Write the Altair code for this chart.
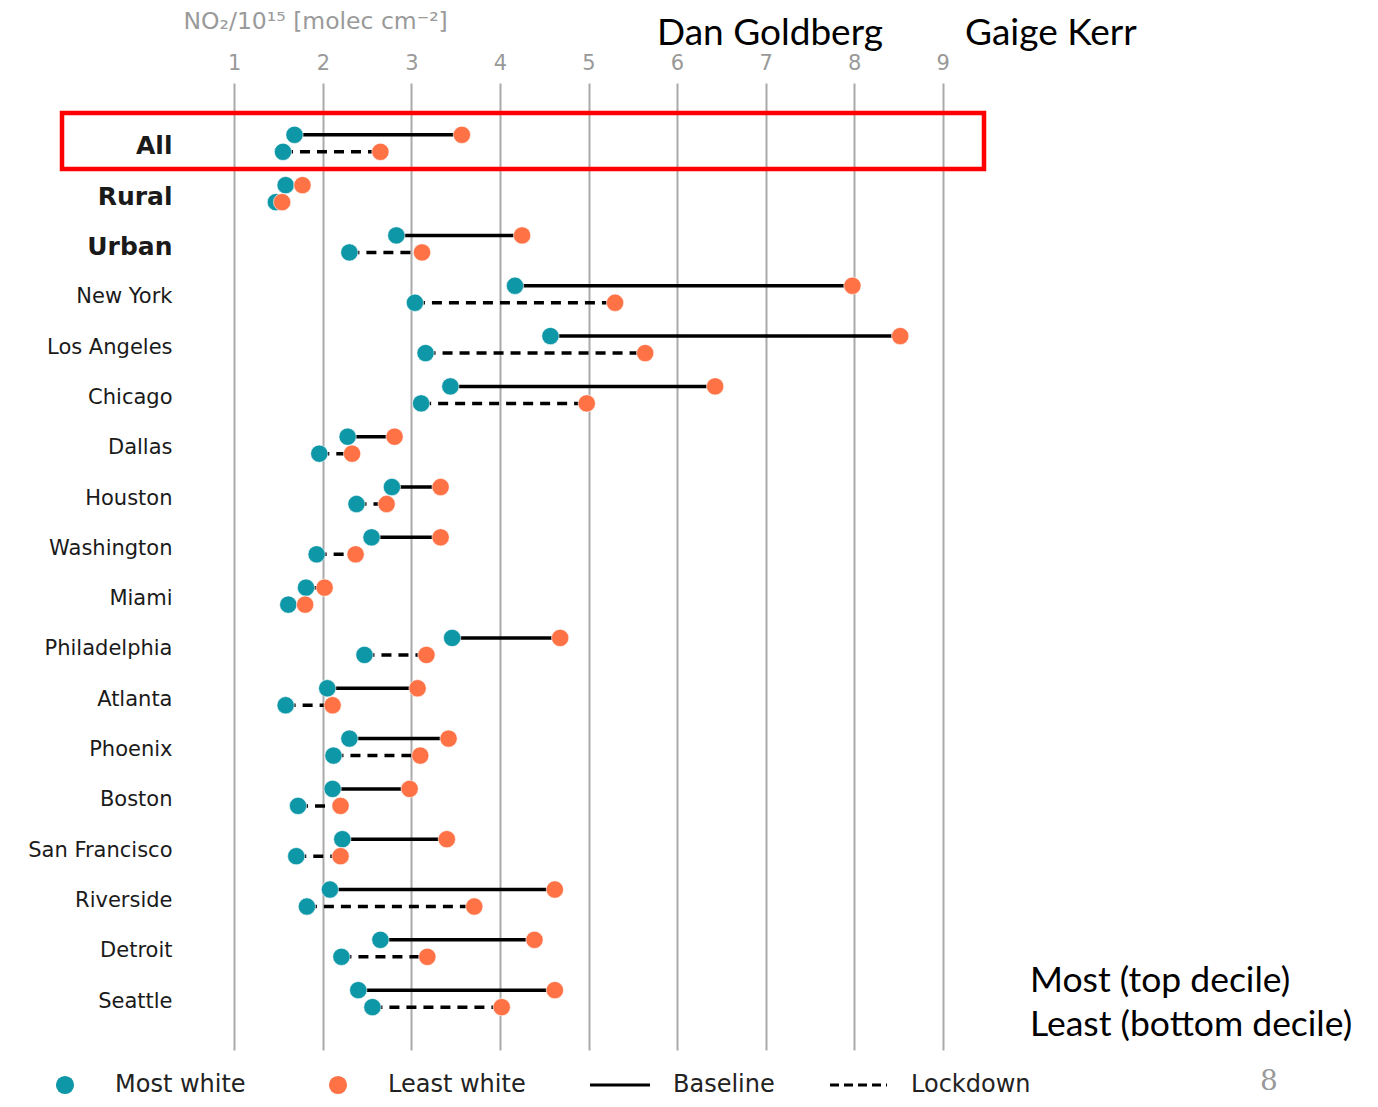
import altair as alt
import pandas as pd

categories = ["All", "Rural", "Urban", "New York", "Los Angeles", "Chicago", "Dallas",
              "Houston", "Washington", "Miami", "Philadelphia", "Atlanta", "Phoenix",
              "Boston", "San Francisco", "Riverside", "Detroit", "Seattle"]
base_most = [1.68, 1.58, 2.83, 4.17, 4.57, 3.44, 2.28, 2.78, 2.55, 1.81, 3.46, 2.05, 2.30, 2.11, 2.22, 2.08, 2.65, 2.40]
base_least = [3.57, 1.77, 4.25, 7.98, 8.52, 6.43, 2.81, 3.33, 3.33, 2.02, 4.68, 3.07, 3.42, 2.98, 3.40, 4.62, 4.39, 4.62]
lock_most = [1.55, 1.47, 2.30, 3.04, 3.16, 3.11, 1.96, 2.38, 1.93, 1.61, 2.47, 1.58, 2.12, 1.72, 1.70, 1.82, 2.21, 2.56]
lock_least = [2.65, 1.54, 3.12, 5.30, 5.64, 4.98, 2.33, 2.72, 2.37, 1.80, 3.17, 2.11, 3.10, 2.20, 2.20, 3.71, 3.18, 4.02]

groups = ["Most white", "Least white"]
periods = ["Baseline", "Lockdown"]
x_ticks = [1, 2, 3, 4, 5, 6, 7, 8, 9]

TEAL = "#0e97a7"
ORANGE = "#ff7246"
DASH = [10, 7]

rows = []
for i, c in enumerate(categories):
    rows.append({"cat": c, "period": "Baseline", "Most white": base_most[i], "Least white": base_least[i]})
    rows.append({"cat": c, "period": "Lockdown", "Most white": lock_most[i], "Least white": lock_least[i]})
df = pd.DataFrame(rows)

x_scale = alt.Scale(domain=[0.5, 9.5], nice=False, zero=False)
y_scale = alt.Scale(domain=categories, paddingInner=0, paddingOuter=0.61, align=0.573)
yoff_scale = alt.Scale(domain=periods, paddingInner=0, paddingOuter=0.48)

x_axis = alt.Axis(orient="top", values=x_ticks, format="d", grid=True, gridColor="#aaaaaa",
                  gridWidth=2, ticks=False, domain=False, labelFontSize=21, labelColor="#999999",
                  labelFont="DejaVu Sans", labelPadding=10,
                  title="NO₂/10¹⁵ [molec cm⁻²]", titleFont="DejaVu Sans", titleFontSize=23.5,
                  titleFontWeight="normal", titleColor="#9a9a9a", titleAnchor="start",
                  titleAlign="left", titleBaseline="middle", titleX=-7, titleY=-62)

is_bold = "indexof(['All','Rural','Urban'], datum.value) >= 0"
y_axis = alt.Axis(title=None, ticks=False, domain=False, grid=False, labelPadding=18,
                  labelOffset=3, labelColor="#1a1a1a", labelFont="DejaVu Sans",
                  labelFontSize={"condition": {"test": is_bold, "value": 25}, "value": 21},
                  labelFontWeight={"condition": {"test": is_bold, "value": "bold"}, "value": "normal"})

base = alt.Chart(df)

lines = base.mark_rule(color="black", strokeWidth=3.5).encode(
    x=alt.X("Most white:Q", scale=x_scale, axis=x_axis),
    x2="Least white:Q",
    y=alt.Y("cat:N", scale=y_scale, axis=y_axis, sort=categories),
    yOffset=alt.YOffset("period:N", scale=yoff_scale, sort=periods),
    strokeDash=alt.StrokeDash("period:N", scale=alt.Scale(domain=periods, range=[[1, 0], DASH]),
                              legend=None),
)

points = base.transform_fold(groups, as_=["group", "value"]).mark_point(
    filled=True, size=300, opacity=1, stroke="white", strokeWidth=0.6).encode(
    x=alt.X("value:Q", scale=x_scale),
    y=alt.Y("cat:N", scale=y_scale, sort=categories),
    yOffset=alt.YOffset("period:N", scale=yoff_scale, sort=periods),
    color=alt.Color("group:N", scale=alt.Scale(domain=groups, range=[TEAL, ORANGE]),
                    legend=alt.Legend(title=None, orient="none", direction="horizontal",
                                      legendX=-137, legendY=990, symbolType="circle",
                                      symbolSize=330, symbolStrokeWidth=0, labelFontSize=24,
                                      labelFont="DejaVu Sans", labelColor="#222222",
                                      labelOffset=38, columnPadding=80)),
    order=alt.Order("group:N", sort="descending"),
)

one = alt.Data(values=[{}])


def note(text, x, y, size, font="Lato", color="black", align="left", baseline="alphabetic"):
    return alt.Chart(one).mark_text(text=text, font=font, fontSize=size, color=color,
                                    align=align, baseline=baseline).encode(
        x=alt.value(x), y=alt.value(y))


def key_line(x1, x2, y, dash):
    return alt.Chart(one).mark_rule(color="black", strokeWidth=3, strokeDash=dash).encode(
        x=alt.value(x1), x2=alt.value(x2), y=alt.value(y))


notes = [
    note("Dan Goldberg", 467, -38.5, 37),
    note("Gaige Kerr", 775, -38.5, 37),
    note("Most (top decile)", 840, 909, 35.5),
    note("Least (bottom decile)", 840, 953, 35.5),
    note("8", 1079, 1007, 28, font="DejaVu Serif", color="#999999", align="center"),
    key_line(400, 460, 1002, [1, 0]),
    note("Baseline", 483, 1002, 24, font="DejaVu Sans", color="#222222", baseline="middle"),
    key_line(640, 697, 1002, [9, 5]),
    note("Lockdown", 721, 1002, 24, font="DejaVu Sans", color="#222222", baseline="middle"),
]

box = alt.Chart(one).mark_rect(filled=False, stroke="#ff0000", strokeWidth=4.5).encode(
    x=alt.value(-128), x2=alt.value(794), y=alt.value(30), y2=alt.value(86))

chart = alt.layer(lines, points, box, *notes).properties(
    width=797, height=967,
    padding={"left": 182, "top": 75, "right": 383, "bottom": 49},
    autosize=alt.AutoSizeParams(type="none"),
).configure_view(stroke=None)

chart.save("out.html", embed_options={"renderer": "svg", "actions": False})
